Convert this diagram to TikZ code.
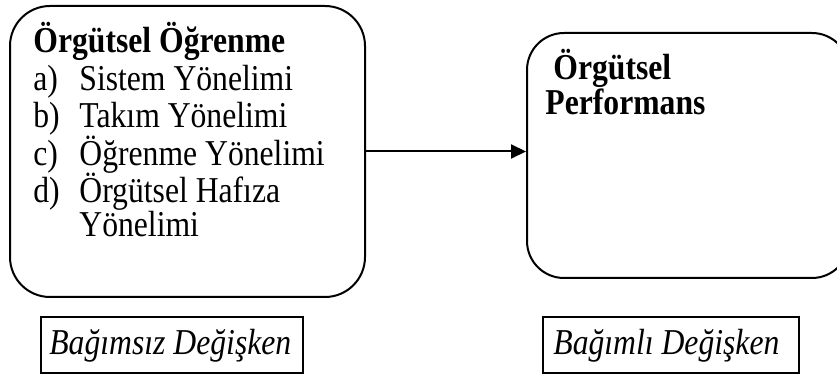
\documentclass[tikz,border=0pt]{standalone}
\usepackage{fontspec}
\setmainfont[FakeStretch=0.87]{Liberation Serif}
\usetikzlibrary{arrows.meta}
\begin{document}
\begin{tikzpicture}[x=0.5pt,y=-0.5pt,
  bigbox/.style={draw, line width=1pt, inner sep=0pt},
  labelbox/.style={draw, line width=0.6pt, inner sep=0pt},
  txt/.style={inner sep=0pt, anchor=base west, font=\fontsize{18.2}{20}\selectfont},
  btxt/.style={txt, font=\fontsize{18.2}{20}\selectfont\bfseries},
  itxt/.style={txt, font=\fontsize{18.2}{20}\selectfont\itshape},
  conn/.style={line width=1pt, -{Triangle[length=7.5pt,width=7pt]}}]
\useasboundingbox (0,0) rectangle (837,374);
\clip (0,0) rectangle (837,374);
% main boxes
\node[bigbox, rounded corners=20pt, minimum width=177.5pt, minimum height=145.5pt] (learn) at (187.5,151.5) {};
\node[bigbox, rounded corners=18.5pt, minimum width=161pt, minimum height=122.5pt] (perf) at (688,155.5) {};
% left box texts
\node[btxt] (t0) at (33,53) {Örgütsel Öğrenme};
\node[txt] (la) at (33,90.5) {a)};
\node[txt] (ia) at (79,90.5) {Sistem Yönelimi};
\node[txt] (lb) at (33,128) {b)};
\node[txt] (ib) at (79,128) {Takım Yönelimi};
\node[txt] (lc) at (33,165.5) {c)};
\node[txt] (ic) at (79,165.5) {Öğrenme Yönelimi};
\node[txt] (ld) at (33,203) {d)};
\node[txt] (id) at (79,203) {Örgütsel Hafıza};
\node[txt] (ie) at (79,237) {Yönelimi};
% right box texts
\node[btxt] (p1) at (553,80) {Örgütsel};
\node[btxt] (p2) at (545,115) {Performans};
% arrow
\draw[conn] (learn.east) -- (learn.east -| perf.west);
% label boxes
\node[labelbox, minimum width=131pt, minimum height=28pt] (indep) at (172,345) {};
\node[itxt] (indept) at (49,355) {Bağımsız Değişken};
\node[labelbox, minimum width=128pt, minimum height=28pt] (dep) at (671,345) {};
\node[itxt] (dept) at (553,355) {Bağımlı Değişken};
\end{tikzpicture}
\end{document}
